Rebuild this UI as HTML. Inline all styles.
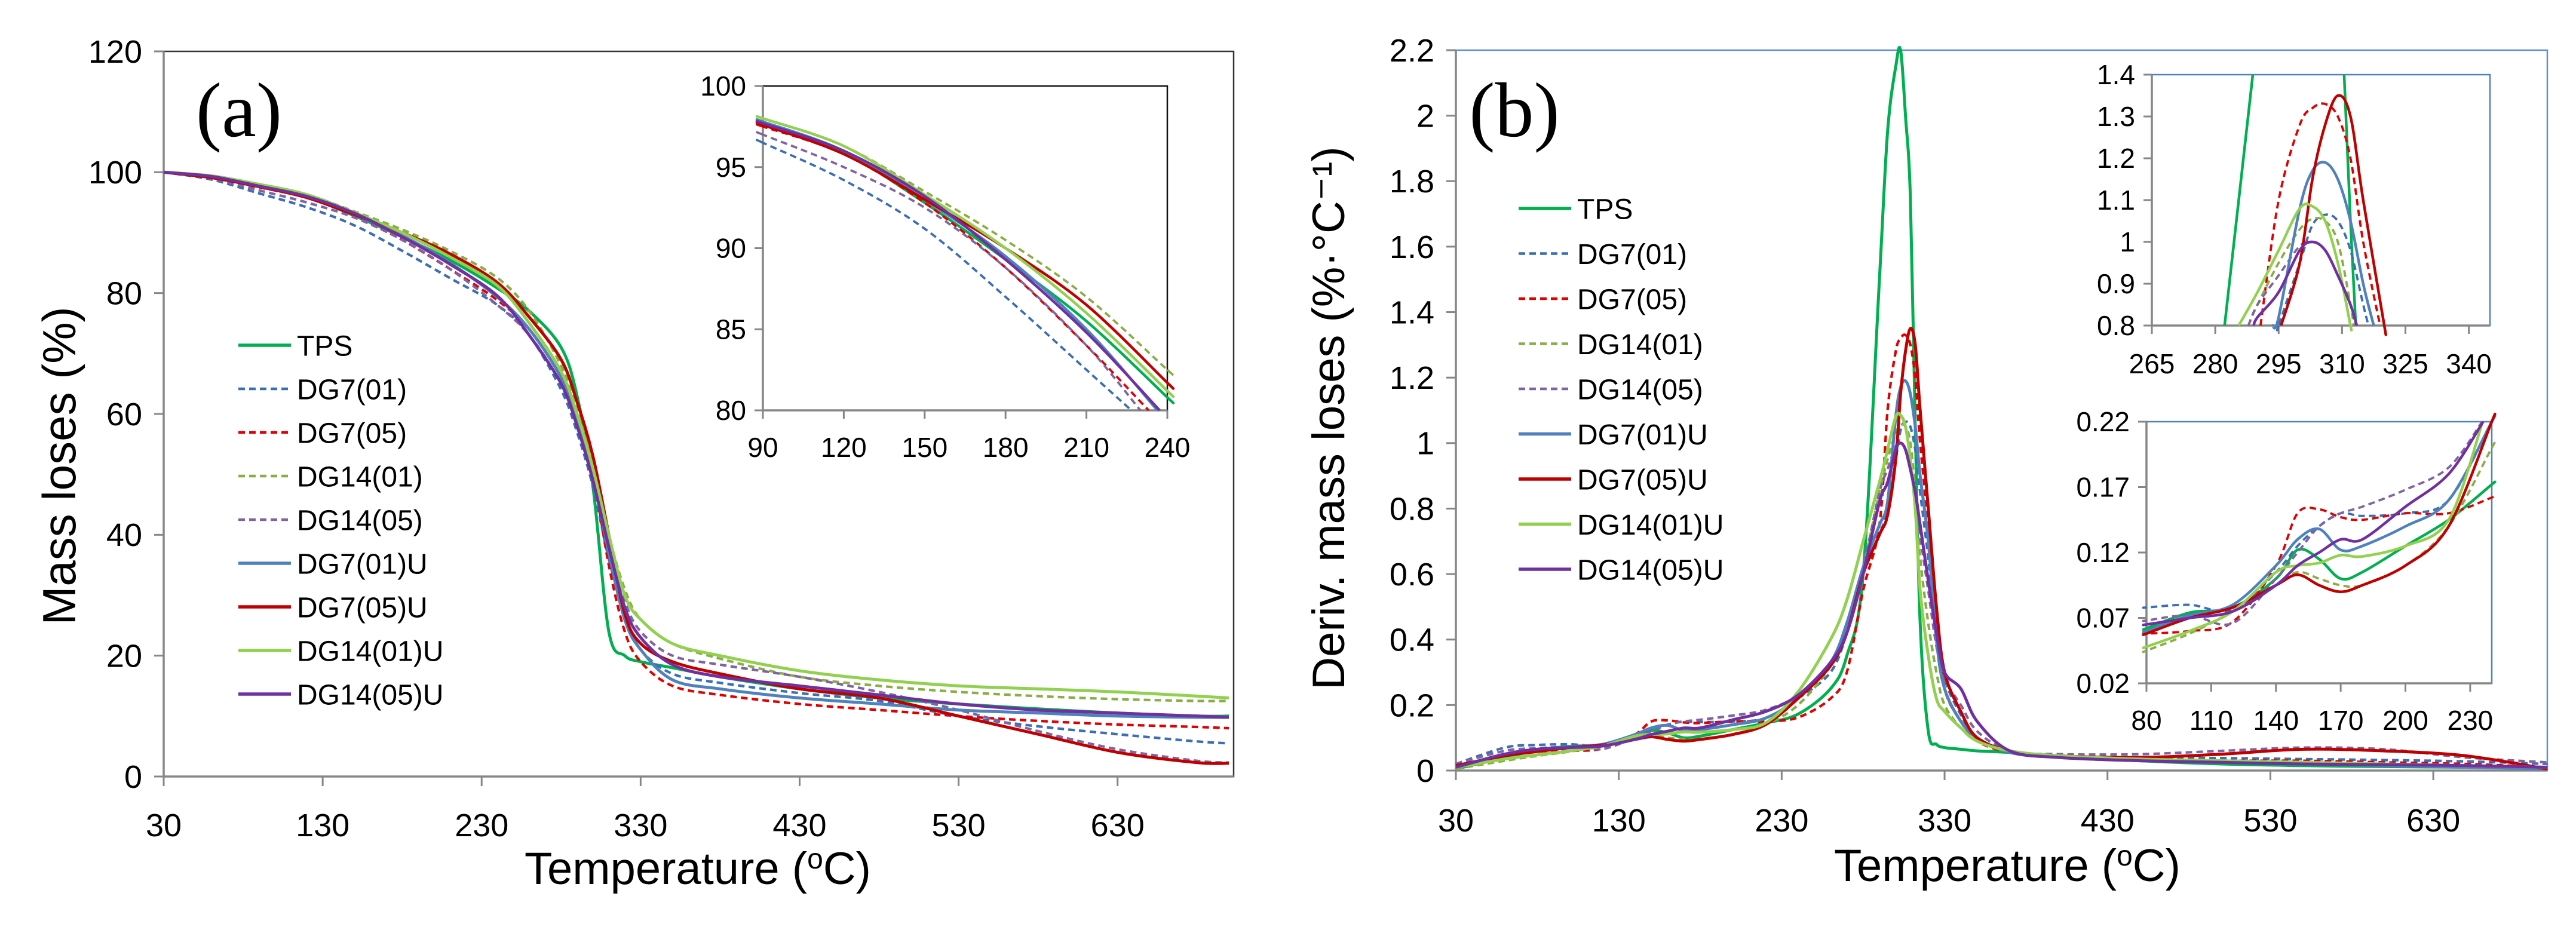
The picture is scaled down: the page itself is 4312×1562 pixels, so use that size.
<!DOCTYPE html>
<html><head><meta charset="utf-8"><style>
html,body{margin:0;padding:0;background:#fff;width:4312px;height:1562px;overflow:hidden}
svg{display:block}
text{font-family:"Liberation Sans Narrow","Liberation Sans",sans-serif;fill:#000}
</style></head><body>
<svg id="fig" width="4312" height="1562" viewBox="0 0 4312 1562" xmlns="http://www.w3.org/2000/svg">
<rect width="4312" height="1562" fill="#fff"/>
</svg>
<script>
const seriesNames=["TPS","DG7(01)","DG7(05)","DG14(01)","DG14(05)","DG7(01)U","DG7(05)U","DG14(01)U","DG14(05)U"];
const seriesColors=["#00b050","#3c6eb4","#e00000","#8aad45","#8064a2","#4f81bd","#c00000","#92d050","#7030a0"];
const seriesDashed=[false,true,true,true,true,false,false,false,false];
const tempsA=[30,60,90,120,150,180,210,240,260,280,290,300,310,320,330,350,380,430,480,530,580,630,680,700];
const massTPS=[100,99.3,97.7,95.9,92.8,89.3,85.5,80.8,77,71,63,48,24,20,19,18,16.5,14.5,13,12,11.2,10.5,10,10];
const massDG701=[100,98.8,96.5,94.2,91.2,87,82.5,78,73,64,57,48,36,27,21,17,15.5,13.8,12.5,10,8.3,7,5.8,5.5];
const massDG705=[100,99,97.5,95.8,92.8,88.8,84,78.8,74,66,59,50,35,24,19,15,13.5,12,11,10,9.2,8.6,8.2,8];
const massDG1401=[100,99.4,98,96.3,93.5,90.5,87,82.5,77,68,61,52,40,31,26,22,19.5,16.5,15,14,13.3,12.8,12.5,12.5];
const massDG1405=[100,99,97,95,92.5,88.8,84,78,73,65,58,50,38,29,24,20,18.5,16.5,14,11,7.5,4.5,2.6,2.3];
const massDG701U=[100,99.3,97.8,96,93,89.5,85,79.3,74,66,59,50,37,26,21,16,14.5,13,12,11,10.5,10,9.8,9.8];
const massDG705U=[100,99.1,97.6,95.8,93,90,86.5,81.7,76,69,62,53,40,27,22,19,17,14.5,13,10,7,4,2.3,2.2];
const massDG1401U=[100,99.4,98,96.3,93.3,90,86,81.2,75,67,60,51,40,30,26,22,20,17.5,16,15,14.5,14,13.3,13];
const massDG1405U=[100,99.3,97.7,96,93.2,89.3,84.8,79.5,73,65,58,49,38,28,23,18.5,16.5,15,13.5,12,11,10.5,10,9.8];
const tempsB=[30,60,80,100,120,140,150,160,170,180,200,220,240,260,270,280,290,295,300,303,306,309,312,315,320,325,330,340,350,370,400,450,500,550,600,650,700];
const derTPS=[0.005,0.04,0.062,0.074,0.078,0.1,0.122,0.115,0.1,0.105,0.125,0.145,0.172,0.25,0.35,0.6,1.5,1.95,2.15,2.2,2.0,1.75,1.05,0.45,0.12,0.08,0.07,0.065,0.06,0.055,0.045,0.03,0.02,0.015,0.012,0.01,0.008];
const derDG701=[0.02,0.07,0.078,0.08,0.076,0.105,0.125,0.14,0.15,0.148,0.15,0.16,0.22,0.3,0.42,0.6,0.72,0.8,0.95,1.04,1.065,1.05,0.98,0.85,0.65,0.42,0.28,0.17,0.1,0.06,0.045,0.04,0.038,0.035,0.032,0.028,0.02];
const derDG705=[0.01,0.045,0.058,0.06,0.067,0.11,0.15,0.153,0.147,0.145,0.15,0.15,0.162,0.22,0.3,0.55,0.75,1.1,1.28,1.32,1.33,1.3,1.2,1.0,0.75,0.45,0.25,0.15,0.09,0.055,0.04,0.035,0.03,0.03,0.025,0.02,0.01];
const derDG1401=[0.005,0.03,0.045,0.058,0.075,0.095,0.105,0.1,0.095,0.095,0.11,0.14,0.2,0.32,0.45,0.62,0.85,0.95,1.03,1.055,1.05,1.0,0.85,0.65,0.45,0.3,0.2,0.13,0.09,0.06,0.04,0.03,0.025,0.02,0.015,0.012,0.01];
const derDG1405=[0.02,0.06,0.068,0.072,0.066,0.1,0.12,0.14,0.15,0.155,0.168,0.185,0.23,0.33,0.45,0.62,0.85,0.92,0.99,1.0,0.98,0.92,0.85,0.72,0.55,0.38,0.28,0.2,0.12,0.06,0.05,0.05,0.06,0.07,0.065,0.04,0.025];
const derDG701U=[0.01,0.05,0.06,0.072,0.08,0.11,0.13,0.138,0.122,0.125,0.14,0.16,0.22,0.33,0.45,0.62,0.75,0.82,1.08,1.17,1.19,1.15,1.05,0.9,0.7,0.4,0.25,0.15,0.1,0.055,0.04,0.03,0.025,0.02,0.015,0.01,0.005];
const derDG705U=[0.015,0.045,0.058,0.07,0.078,0.095,0.103,0.095,0.09,0.095,0.11,0.14,0.22,0.32,0.42,0.6,0.72,0.78,0.95,1.15,1.28,1.35,1.3,1.1,0.8,0.5,0.3,0.18,0.1,0.06,0.045,0.04,0.05,0.065,0.06,0.045,0.005];
const derDG1401U=[0.01,0.035,0.048,0.06,0.075,0.105,0.11,0.112,0.118,0.117,0.125,0.145,0.24,0.4,0.52,0.7,0.88,0.98,1.08,1.085,1.05,0.95,0.8,0.55,0.35,0.22,0.18,0.13,0.09,0.06,0.045,0.035,0.03,0.025,0.02,0.015,0.01];
const derDG1405U=[0.01,0.05,0.065,0.07,0.075,0.095,0.11,0.12,0.13,0.13,0.155,0.18,0.23,0.33,0.42,0.6,0.82,0.88,0.98,1.0,0.98,0.92,0.85,0.75,0.58,0.42,0.3,0.25,0.15,0.06,0.04,0.03,0.025,0.02,0.018,0.015,0.01];
const massSeries=[massTPS,massDG701,massDG705,massDG1401,massDG1405,massDG701U,massDG705U,massDG1401U,massDG1405U];
const derSeries=[derTPS,derDG701,derDG705,derDG1401,derDG1405,derDG701U,derDG705U,derDG1401U,derDG1405U];
const ticksAx=[30,130,230,330,430,530,630];
const ticksAy=[0,20,40,60,80,100,120];
const ticksAinX=[90,120,150,180,210,240];
const ticksAinY=[80,85,90,95,100];
const ticksBy=[0,0.2,0.4,0.6,0.8,1,1.2,1.4,1.6,1.8,2,2.2];
const ticksB1x=[265,280,295,310,325,340];
const ticksB1y=[0.8,0.9,1,1.1,1.2,1.3,1.4];
const ticksB2x=[80,110,140,170,200,230];
const ticksB2y=[0.02,0.07,0.12,0.17,0.22];

const NS="http://www.w3.org/2000/svg";
const svg=document.getElementById('fig');
function mk(tag,attrs,parent){const e=document.createElementNS(NS,tag);for(const k in attrs)e.setAttribute(k,attrs[k]);(parent||svg).appendChild(e);return e;}
function smooth(pts){let d="M"+pts[0][0].toFixed(1)+","+pts[0][1].toFixed(1);for(let i=0;i<pts.length-1;i++){const p0=pts[i-1]||pts[i],p1=pts[i],p2=pts[i+1],p3=pts[i+2]||p2;const c1=[p1[0]+(p2[0]-p0[0])/6,p1[1]+(p2[1]-p0[1])/6],c2=[p2[0]-(p3[0]-p1[0])/6,p2[1]-(p3[1]-p1[1])/6];d+="C"+c1[0].toFixed(1)+","+c1[1].toFixed(1)+" "+c2[0].toFixed(1)+","+c2[1].toFixed(1)+" "+p2[0].toFixed(1)+","+p2[1].toFixed(1);}return d;}
// Liang-Barsky segment clip
function clipSeg(a,b,r){let t0=0,t1=1;const dx=b[0]-a[0],dy=b[1]-a[1];
  const p=[-dx,dx,-dy,dy],q=[a[0]-r.x0,r.x1-a[0],a[1]-r.y1,r.y0-a[1]];
  for(let i=0;i<4;i++){if(p[i]===0){if(q[i]<0)return null;}else{const t=q[i]/p[i];if(p[i]<0){if(t>t1)return null;if(t>t0)t0=t;}else{if(t<t0)return null;if(t<t1)t1=t;}}}
  return [[a[0]+t0*dx,a[1]+t0*dy],[a[0]+t1*dx,a[1]+t1*dy],t0>0,t1<1];}
function clipRuns(pts,r){const runs=[];let cur=null;
  for(let i=0;i<pts.length-1;i++){const c=clipSeg(pts[i],pts[i+1],r);
    if(!c){if(cur){runs.push(cur);cur=null;}continue;}
    if(!cur||c[2]){if(cur)runs.push(cur);cur=[c[0]];}
    cur.push(c[1]);
    if(c[3]){runs.push(cur);cur=null;}}
  if(cur)runs.push(cur);return runs.filter(r=>r.length>1);}

function panel(o){
  const g=mk('g',{});
  
  
  const sx=v=>o.x0+(v-o.xmin)/(o.xmax-o.xmin)*(o.x1-o.x0);
  const sy=v=>o.y0-(v-o.ymin)/(o.ymax-o.ymin)*(o.y0-o.y1);
  if(o.frame) mk('rect',{x:o.x0,y:o.y1,width:o.x1-o.x0,height:o.y0-o.y1,fill:'none',stroke:o.frame,'stroke-width':o.fw||2.5},g);
  const ax=mk('line',{x1:o.x0,y1:o.y0,x2:o.x1,y2:o.y0,stroke:'#868686','stroke-width':3.5},g);
  
  const ay=mk('line',{x1:o.x0,y1:o.y0,x2:o.x0,y2:o.y1,stroke:'#868686','stroke-width':3.5},g);
  
  o.xt.forEach(v=>{const x=sx(v);mk('line',{x1:x,y1:o.y0,x2:x,y2:o.y0+o.tl,stroke:'#868686','stroke-width':3},g);
    const t=mk('text',{x:x,y:o.y0+o.xlo,'font-size':o.fs,'text-anchor':'middle'},g);t.textContent=v;
    });
  o.yt.forEach(v=>{const y=sy(v);mk('line',{x1:o.x0-o.tl,y1:y,x2:o.x0,y2:y,stroke:'#868686','stroke-width':3},g);
    const t=mk('text',{x:o.x0-o.ylo,y:y+o.fs*0.35,'font-size':o.fs,'text-anchor':'end'},g);t.textContent=v;
    });
  const rect={x0:o.x0,x1:o.x1,y0:o.y0,y1:o.y1};
  const lg=mk('g',{},g);
  o.series.forEach((s,i)=>{const pts=o.temps.map((t,j)=>[sx(t),sy(s[j])]);
    const d=clipRuns(pts,rect).map(smooth).join(' ');
    if(!d)return;
    const p=mk('path',{d:d,fill:'none',stroke:seriesColors[i],'stroke-width':seriesDashed[i]?o.lw*0.85:o.lw,'stroke-dasharray':seriesDashed[i]?'11,7':'none','stroke-linejoin':'round'},lg);
    
    });
  return g;
}
function legend(x,y,step,fs,name){
  const g=mk('g',{});
  seriesNames.forEach((n,i)=>{const yy=y+i*step;
    mk('line',{x1:x,y1:yy,x2:x+88,y2:yy,stroke:seriesColors[i],'stroke-width':seriesDashed[i]?4.5:5.5,'stroke-dasharray':seriesDashed[i]?'11,7':'none'},g);
    const t=mk('text',{x:x+98,y:yy+fs*0.36,'font-size':fs},g);t.textContent=n;
    });
}
function label(txt,x,y,fs,rot,name,family){const t=mk('text',{x:x,y:y,'font-size':fs,'text-anchor':'middle',transform:rot?'rotate(-90 '+x+' '+y+')':''});
  if(family)t.setAttribute('style','font-family:'+family);
  t.textContent=txt;return t;}
function tempTitle(x,y,name){const t=mk('text',{x:x,y:y,'font-size':76,'text-anchor':'middle'});
  
  const a=mk('tspan',{},t);a.textContent='Temperature (';
  const b=mk('tspan',{dy:-26,'font-size':48},t);b.textContent='o';
  const c=mk('tspan',{dy:26},t);c.textContent='C)';}

panel({name:'chart-a',x0:274,x1:2065,y0:1300,y1:86,xmin:30,xmax:703,ymin:0,ymax:120,xt:ticksAx,yt:ticksAy,temps:tempsA,series:massSeries,fs:54,tl:16,xlo:100,ylo:36,lw:5,frame:'#333'});
panel({name:'inset-a',x0:1277,x1:1954,y0:687,y1:144,xmin:90,xmax:240,ymin:80,ymax:100,xt:ticksAinX,yt:ticksAinY,temps:tempsA,series:massSeries,fs:46,tl:14,xlo:78,ylo:28,lw:4.5,frame:'#111'});
legend(399,578,73,48,'legend-a');
label('(a)',400,228,130,false,'panel-label-a','"Liberation Serif",serif');
label('Mass loses (%)',126,780,78,true,'y-axis-title-a','"Liberation Sans",sans-serif');
tempTitle(1168,1480,'x-axis-title-a');

panel({name:'chart-b',x0:2437,x1:4264,y0:1290,y1:84,xmin:30,xmax:700,ymin:0,ymax:2.2,xt:ticksAx,yt:ticksBy,temps:tempsB,series:derSeries,fs:54,tl:16,xlo:102,ylo:36,lw:5,frame:'#5b8fd0'});
panel({name:'inset-b-peak',x0:3602,x1:4168,y0:545,y1:125,xmin:265,xmax:345,ymin:0.8,ymax:1.4,xt:ticksB1x,yt:ticksB1y,temps:tempsB,series:derSeries,fs:46,tl:14,xlo:80,ylo:28,lw:4.5,frame:'#4f81bd'});
panel({name:'inset-b-low',x0:3593,x1:4171,y0:1144,y1:706,xmin:80,xmax:240,ymin:0.02,ymax:0.22,xt:ticksB2x,yt:ticksB2y,temps:tempsB,series:derSeries,fs:46,tl:14,xlo:78,ylo:28,lw:4.5,frame:'#4f81bd'});
legend(2542,349,75.5,48,'legend-b');
label('(b)',2535,228,130,false,'panel-label-b','"Liberation Serif",serif');
label('Deriv. mass loses (%\u00B7\u00B0C\u207B\u00B9)',2250,700,76,true,'y-axis-title-b','"Liberation Sans",sans-serif');
tempTitle(3360,1475,'x-axis-title-b');
</script>
</body></html>
